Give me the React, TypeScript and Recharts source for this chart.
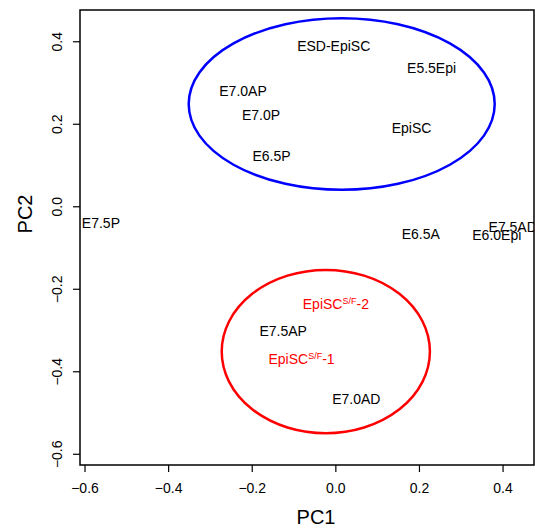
import React from 'react';
import { ScatterChart, Scatter, XAxis, YAxis, ReferenceArea, Customized } from 'recharts';

const sampleLabels = ['ESD-EpiSC', 'E5.5Epi', 'E7.0AP', 'E7.0P', 'EpiSC', 'E6.5P', 'E7.5P', 'E6.5A', 'E6.0Epi', 'E7.5AD', 'EpiSC-2', 'E7.5AP', 'EpiSC-1', 'E7.0AD'];
const pc1Values = [-0.005, 0.229, -0.222, -0.179, 0.181, -0.154, -0.562, 0.203, 0.385, 0.423, 0.0, -0.126, -0.082, 0.049];
const pc2Values = [0.39, 0.336, 0.281, 0.222, 0.19, 0.124, -0.039, -0.066, -0.069, -0.05, -0.236, -0.301, -0.369, -0.467];
const sfLabels = ['EpiSC-2', 'EpiSC-1'];

const xTicks = [-0.6, -0.4, -0.2, 0.0, 0.2, 0.4];
const yTicks = [-0.6, -0.4, -0.2, 0.0, 0.2, 0.4];

const ellipseNames = ['blue', 'red'];
const ellipseCenterX = [0.014, -0.024];
const ellipseCenterY = [0.249, -0.351];
const ellipseRadiusX = [0.366, 0.249];
const ellipseRadiusY = [0.208, 0.198];

const X_DOMAIN: [number, number] = [-0.612, 0.474];
const Y_DOMAIN: [number, number] = [-0.626, 0.477];

const data = sampleLabels.map((label, i) => ({ x: pc1Values[i], y: pc2Values[i], label }));

const FONT = '"Liberation Sans", Arial, Helvetica, sans-serif';
const fmt = (v: number) => v.toFixed(1).replace('-', '\u2212');

const LabelShape = (props: any) => {
  const { cx, cy, payload } = props;
  const label: string = payload.label;
  if (sfLabels.includes(label)) {
    const suffix = label.split('-')[1];
    return (
      <text x={cx} y={cy} dy="0.36em" textAnchor="middle" fontFamily={FONT} fontSize={14} fill="#FF0000">
        <tspan>EpiSC</tspan>
        <tspan fontSize={9} dy={-5}>S/F</tspan>
        <tspan dy={5}>{'-' + suffix}</tspan>
      </text>
    );
  }
  return (
    <text x={cx} y={cy} dy="0.36em" textAnchor="middle" fontFamily={FONT} fontSize={14} fill="#000">
      {label}
    </text>
  );
};

const YTick = (props: any) => {
  const { x, y, payload } = props;
  const bx = x - 7;
  return (
    <text x={bx} y={y} textAnchor="middle" transform={`rotate(-90, ${bx}, ${y})`} fontFamily={FONT} fontSize={14} fill="#000">
      {fmt(payload.value)}
    </text>
  );
};

const ellipseShape = (color: string) => (props: any) => {
  const { x, y, width, height } = props;
  return (
    <ellipse cx={x + width / 2} cy={y + height / 2} rx={Math.abs(width) / 2} ry={Math.abs(height) / 2} fill="none" stroke={color} strokeWidth={2.5} />
  );
};

const ellipseColors: Record<string, string> = { blue: '#0000FF', red: '#FF0000' };

const Titles = () => (
  <g>
    <text x={316} y={524} textAnchor="middle" fontFamily={FONT} fontSize={20} fill="#000">PC1</text>
    <text x={32} y={214} textAnchor="middle" transform="rotate(-90, 32, 214)" fontFamily={FONT} fontSize={20} fill="#000">PC2</text>
  </g>
);

export default function App() {
  return (
    <div style={{ position: 'absolute', left: 0, top: 0, background: '#fff' }}>
      <ScatterChart width={535} height={529} margin={{ top: 10, right: 1, bottom: 0, left: 0 }}>
        <XAxis
          type="number"
          dataKey="x"
          domain={X_DOMAIN}
          ticks={xTicks}
          allowDataOverflow
          height={64}
          tickSize={7}
          tickMargin={11}
          axisLine={false}
          tickLine={{ stroke: '#000', strokeWidth: 1.2 }}
          tick={{ fill: '#000', fontSize: 14, fontFamily: FONT }}
          tickFormatter={fmt}
          interval={0}
        />
        <YAxis
          type="number"
          dataKey="y"
          domain={Y_DOMAIN}
          ticks={yTicks}
          allowDataOverflow
          width={80}
          tickSize={7}
          tickMargin={4}
          axisLine={false}
          tickLine={{ stroke: '#000', strokeWidth: 1.2 }}
          tick={<YTick />}
          interval={0}
        />
        <ReferenceArea
          x1={X_DOMAIN[0]}
          x2={X_DOMAIN[1]}
          y1={Y_DOMAIN[0]}
          y2={Y_DOMAIN[1]}
          fill="none"
          fillOpacity={0}
          stroke="#000"
          strokeWidth={1.5}
          ifOverflow="visible"
        />
        {ellipseNames.map((name, i) => (
          <ReferenceArea
            key={name}
            x1={ellipseCenterX[i] - ellipseRadiusX[i]}
            x2={ellipseCenterX[i] + ellipseRadiusX[i]}
            y1={ellipseCenterY[i] - ellipseRadiusY[i]}
            y2={ellipseCenterY[i] + ellipseRadiusY[i]}
            ifOverflow="visible"
            shape={ellipseShape(ellipseColors[name])}
          />
        ))}
        <Scatter data={data} isAnimationActive={false} shape={<LabelShape />} />
        <Customized component={<Titles />} />
      </ScatterChart>
    </div>
  );
}
